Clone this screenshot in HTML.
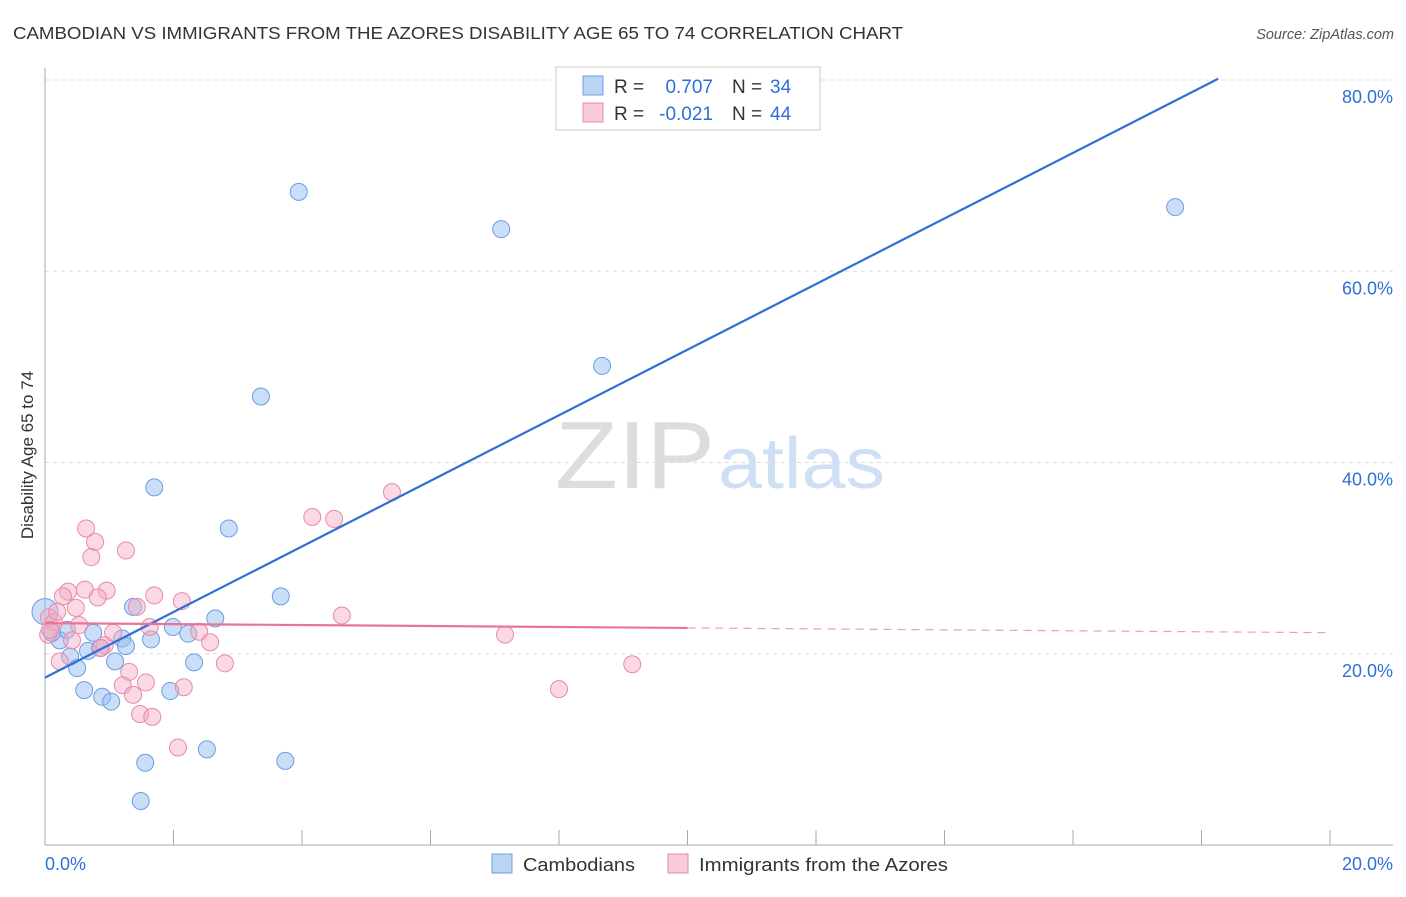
<!DOCTYPE html>
<html><head><meta charset="utf-8"><style>
body{margin:0;background:#fff;font-family:"Liberation Sans",sans-serif}
svg text{font-family:"Liberation Sans",sans-serif}
</style></head><body>
<svg id="c" width="1406" height="892" xmlns="http://www.w3.org/2000/svg">
<text x="13" y="39" font-size="17.5" fill="#333" textLength="890" lengthAdjust="spacingAndGlyphs">CAMBODIAN VS IMMIGRANTS FROM THE AZORES DISABILITY AGE 65 TO 74 CORRELATION CHART</text>
<text x="1394" y="39" font-size="14.5" fill="#555" text-anchor="end" font-style="italic">Source: ZipAtlas.com</text>
<text x="555" y="488" font-size="96" fill="#ddd" textLength="160" lengthAdjust="spacingAndGlyphs" font-family="Liberation Serif,serif">ZIP</text>
<text x="718" y="488" font-size="72" fill="#cfe0f5" textLength="167" lengthAdjust="spacingAndGlyphs">atlas</text>
<g id="grid"></g><g id="axes"></g><g id="pts"></g><g id="lines"></g>
<text transform="translate(33,455) rotate(-90)" font-size="17" fill="#333" text-anchor="middle">Disability Age 65 to 74</text>
<g>
<rect x="556" y="67" width="264" height="63" fill="#fff" stroke="#ccc"/>
<rect x="583" y="76" width="20" height="19" fill="#bcd4f3" stroke="#6b9ee3"/>
<rect x="583" y="103" width="20" height="19" fill="#f8cbd8" stroke="#e88aa8"/>
<text x="614" y="93" font-size="19" fill="#333">R =</text>
<text x="713" y="93" font-size="19" fill="#2f6fd6" text-anchor="end">0.707</text>
<text x="732" y="93" font-size="19" fill="#333">N =</text>
<text x="770" y="93" font-size="19" fill="#2f6fd6">34</text>
<text x="614" y="120" font-size="19" fill="#333">R =</text>
<text x="713" y="120" font-size="19" fill="#2f6fd6" text-anchor="end">-0.021</text>
<text x="732" y="120" font-size="19" fill="#333">N =</text>
<text x="770" y="120" font-size="19" fill="#2f6fd6">44</text>
</g>
<g>
<rect x="492" y="854" width="20" height="19" fill="#bcd4f3" stroke="#6b9ee3"/>
<text x="523" y="871" font-size="18" fill="#333" textLength="112" lengthAdjust="spacingAndGlyphs">Cambodians</text>
<rect x="668" y="854" width="20" height="19" fill="#f8cbd8" stroke="#e88aa8"/>
<text x="699" y="871" font-size="18" fill="#333" textLength="249" lengthAdjust="spacingAndGlyphs">Immigrants from the Azores</text>
</g>
</svg>
<script>
const xTicks=[0,2,4,6,8,10,12,14,16,18,20];
const yTicks=[20,40,60,80];
const yTickLabels=["20.0%","40.0%","60.0%","80.0%"];
const blueX=[3.95,7.10,17.59,8.67,3.36,1.70,2.86,3.67,1.37,2.65,1.99,0.75,2.23,1.65,1.20,0.23,0.34,0.11,0.67,1.26,0.86,1.09,2.32,0.39,0.50,0.61,0.89,1.03,1.95,2.52,1.56,3.74,1.49,0.0];
const blueY=[68.3,64.4,66.7,50.1,46.9,37.4,33.1,26.0,24.9,23.7,22.8,22.2,22.1,21.5,21.6,21.4,22.5,22.2,20.3,20.8,20.6,19.2,19.1,19.7,18.5,16.2,15.5,15.0,16.1,10.0,8.6,8.8,4.6,24.4];
const pinkX=[5.40,4.16,4.50,0.64,0.78,0.72,1.26,0.36,0.62,0.96,0.82,1.70,2.13,1.43,0.48,0.28,4.62,7.16,0.53,1.63,2.40,2.57,0.93,0.87,1.06,0.06,0.14,0.05,0.42,0.23,2.80,9.14,1.31,1.21,1.57,2.16,8.00,1.37,1.48,1.67,2.07,0.19,0.08];
const pinkY=[36.9,34.3,34.1,33.1,31.7,30.1,30.8,26.5,26.7,26.6,25.9,26.1,25.5,24.9,24.8,26.0,24.0,22.0,23.0,22.8,22.3,21.2,20.9,20.6,22.2,23.8,23.3,22.0,21.4,19.2,19.0,18.9,18.1,16.7,17.0,16.5,16.3,15.7,13.7,13.4,10.2,24.4,22.5];
const blueFit=[17.5,3.43];
const pinkFit=[23.2,-0.05];
const X=v=>45+v/20*1285, Y=v=>845-v/80*765;
const NS="http://www.w3.org/2000/svg";
function mk(p,t,a){const e=document.createElementNS(NS,t);for(const k in a)e.setAttribute(k,a[k]);document.getElementById(p).appendChild(e);return e;}
yTicks.forEach((t,i)=>{
 const g=mk('grid','line',{x1:45,x2:1393,y1:Y(t),y2:Y(t),stroke:'#ddd','stroke-dasharray':'4,4'});
 
 
 const l=mk('axes','text',{x:1393,y:Y(t)+23,'font-size':18,fill:'#2f6fd6','text-anchor':'end'});
 l.textContent=yTickLabels[i];
 
 
});
let a=mk('axes','line',{x1:45,x2:45,y1:68,y2:845,stroke:'#aaa'});


a=mk('axes','line',{x1:45,x2:1393,y1:845,y2:845,stroke:'#aaa'});


xTicks.forEach(t=>{const e=mk('axes','line',{x1:X(t),x2:X(t),y1:830,y2:845,stroke:'#aaa'});
 
 });
let t=mk('axes','text',{x:45,y:870,'font-size':18,fill:'#2f6fd6'});t.textContent='0.0%';


t=mk('axes','text',{x:1393,y:870,'font-size':18,fill:'#2f6fd6','text-anchor':'end'});t.textContent='20.0%';


blueX.forEach((x,i)=>{const c=mk('pts','circle',{cx:X(x),cy:Y(blueY[i]),r:i==33?13:8.5,fill:'rgba(150,190,240,0.5)',stroke:'#6b9ee3','stroke-width':1});
 
 });
pinkX.forEach((x,i)=>{const c=mk('pts','circle',{cx:X(x),cy:Y(pinkY[i]),r:8.5,fill:'rgba(245,170,195,0.45)',stroke:'#e88aa8','stroke-width':1});
 
 });
const bx2=18.26;
let l=mk('lines','line',{x1:X(0),y1:Y(blueFit[0]),x2:X(bx2),y2:Y(blueFit[0]+blueFit[1]*bx2),stroke:'#2f6fd6','stroke-width':2.2});


l=mk('lines','line',{x1:X(0),y1:Y(pinkFit[0]),x2:X(10),y2:Y(pinkFit[0]+pinkFit[1]*10),stroke:'#e8749a','stroke-width':2.2});


l=mk('lines','line',{x1:X(10),y1:Y(pinkFit[0]+pinkFit[1]*10),x2:X(20),y2:Y(pinkFit[0]+pinkFit[1]*20),stroke:'#e8a0b8','stroke-width':1.2,'stroke-dasharray':'8,6'});


</script>
</body></html>
